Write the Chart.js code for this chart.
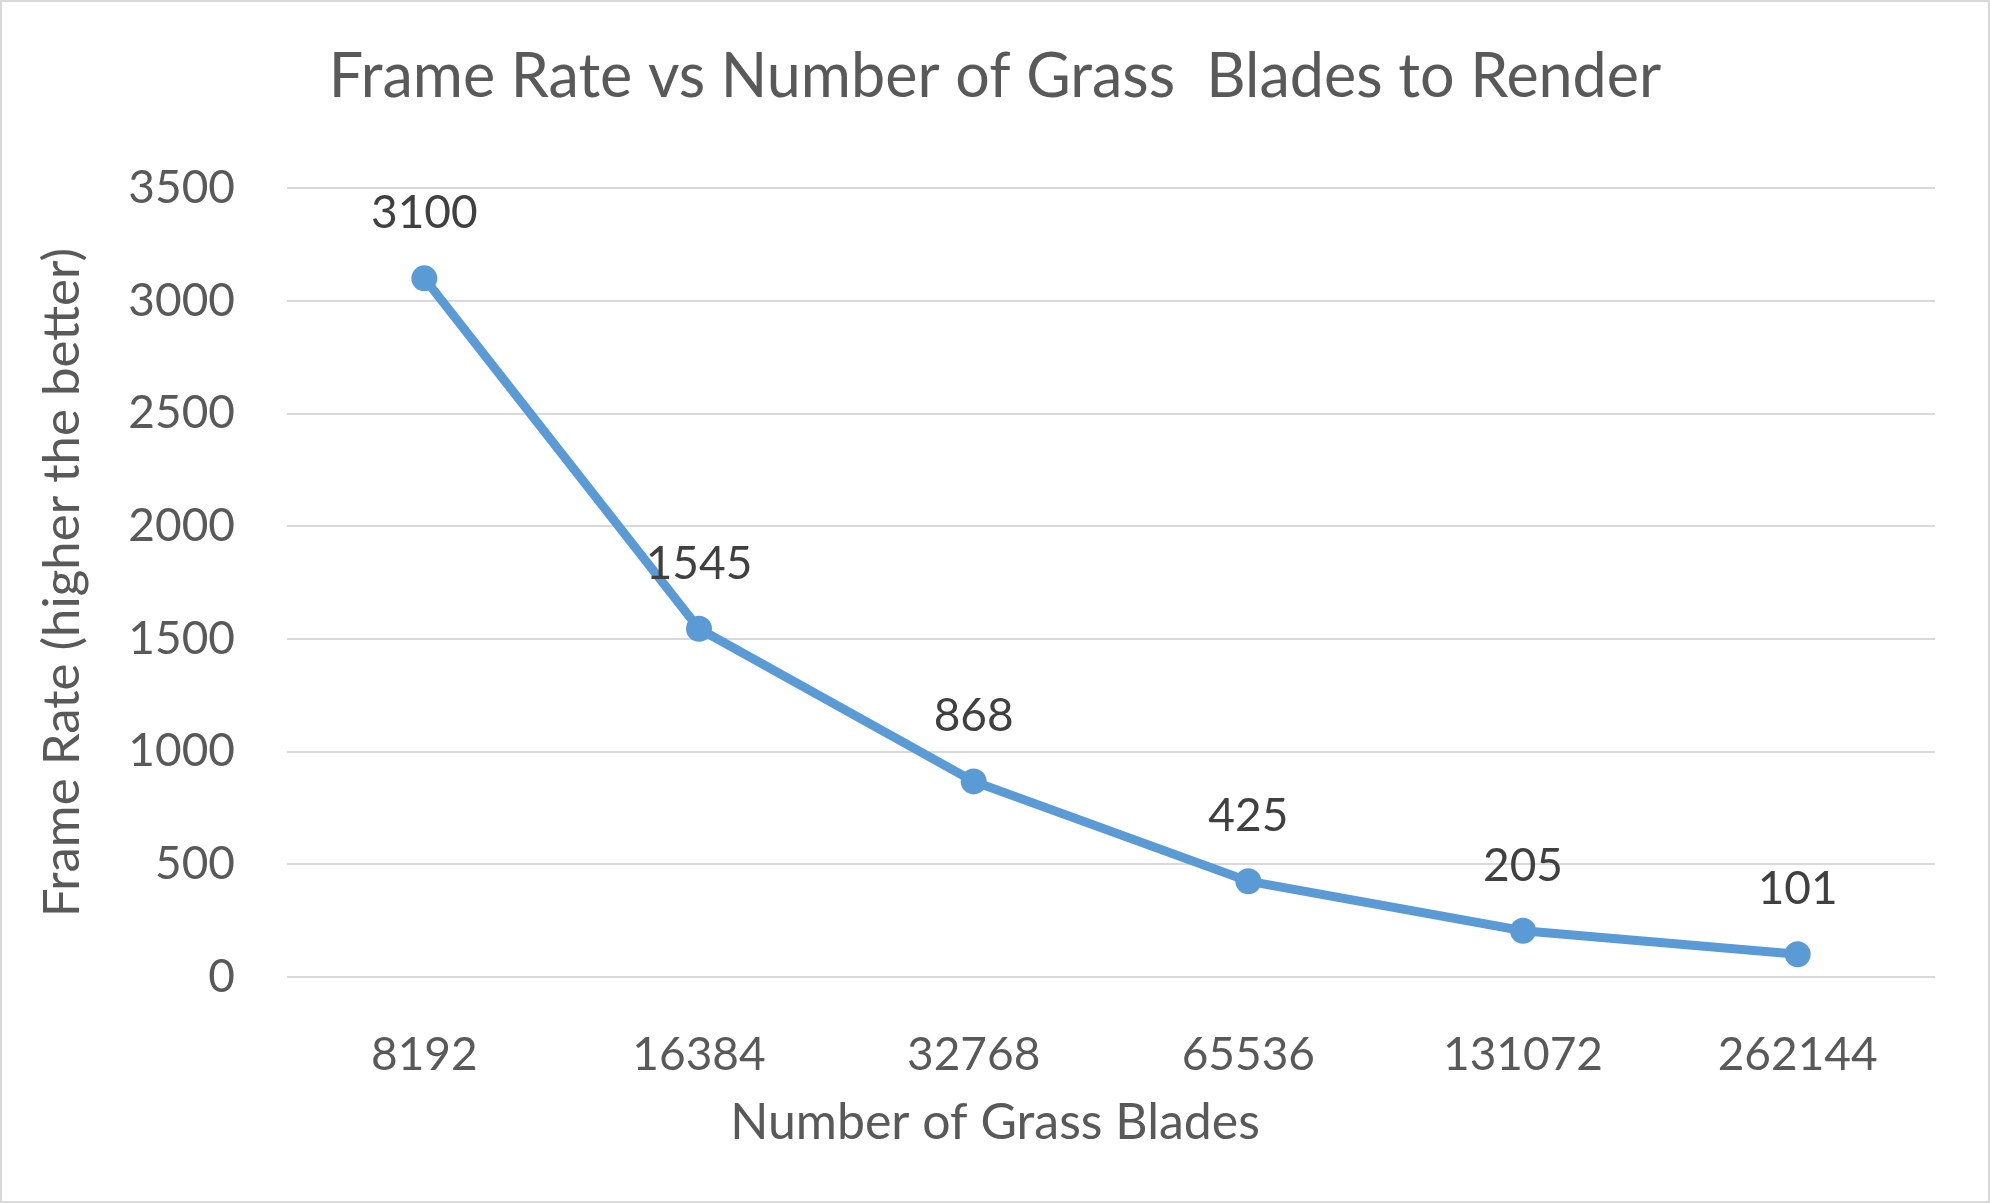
<!DOCTYPE html>
<html>
<head>
<meta charset="utf-8">
<script src="https://cdn.jsdelivr.net/npm/chart.js@4/dist/chart.umd.min.js"></script>
<style>
  html, body { margin: 0; padding: 0; background: #fff; }
  #wrap { width: 1990px; height: 1203px; position: relative; }
</style>
</head>
<body>
<div id="wrap"><canvas id="fpsChart"></canvas></div>
<script>
const bladeCounts = ['8192', '16384', '32768', '65536', '131072', '262144'];
const frameRates = [3100, 1545, 868, 425, 205, 101];
const yTicks = { min: 0, max: 3500, step: 500 };

const textGrey = '#595959';
const lineBlue = '#5B9BD5';

// white page with the thin grey frame Excel puts round a chart
const chartFrame = {
  id: 'chartFrame',
  beforeDraw(chart) {
    const { ctx, width, height } = chart;
    ctx.save();
    ctx.fillStyle = '#ffffff';
    ctx.fillRect(0, 0, width, height);
    ctx.strokeStyle = '#d9d9d9';
    ctx.lineWidth = 2;
    ctx.strokeRect(1, 1, width - 2, height - 2);
    ctx.restore();
  }
};

// value labels sitting above each point
const pointLabels = {
  id: 'pointLabels',
  afterDatasetsDraw(chart) {
    const { ctx } = chart;
    const meta = chart.getDatasetMeta(0);
    ctx.save();
    ctx.font = '46px Lato';
    ctx.fillStyle = '#404040';
    ctx.textAlign = 'center';
    ctx.textBaseline = 'middle';
    meta.data.forEach((pt, i) => {
      ctx.fillText(String(frameRates[i]), pt.x, pt.y - 65);
    });
    ctx.restore();
  }
};

function renderChart() {
  const canvas = document.getElementById('fpsChart');
  new Chart(canvas, {
    type: 'line',
    data: {
      labels: bladeCounts,
      datasets: [{
        label: 'Frame Rate',
        data: frameRates,
        borderColor: lineBlue,
        backgroundColor: lineBlue,
        borderWidth: 9,
        pointRadius: 13,
        pointHoverRadius: 13,
        pointBorderWidth: 0,
        tension: 0,
        fill: false
      }]
    },
    options: {
      responsive: true,
      maintainAspectRatio: false,
      animation: false,
      devicePixelRatio: 1,
      layout: { padding: { top: 0, left: 55, right: 55, bottom: 10 } },
      plugins: {
        legend: { display: false },
        tooltip: { enabled: false },
        title: {
          display: true,
          text: 'Frame Rate vs Number of Grass  Blades to Render',
          color: textGrey,
          font: { family: 'Lato', size: 61, weight: 'normal', lineHeight: 1.2 },
          padding: { top: 41, bottom: 74 }
        },
        // x axis caption: Excel centres it on the whole chart, not the plot
        subtitle: {
          display: true,
          position: 'bottom',
          text: 'Number of Grass Blades',
          color: textGrey,
          font: { family: 'Lato', size: 50, weight: 'normal', lineHeight: 1.2 },
          padding: { top: 5, bottom: 40 }
        }
      },
      scales: {
        x: {
          offset: true,
          grid: { display: false },
          border: { display: false },
          ticks: {
            color: textGrey,
            font: { family: 'Lato', size: 46 },
            padding: 43,
            maxRotation: 0
          },
          afterFit(scale) { scale.height = 111; }
        },
        y: {
          min: yTicks.min,
          max: yTicks.max,
          grid: { color: '#d9d9d9', lineWidth: 2, drawTicks: false },
          border: { display: false },
          ticks: {
            stepSize: yTicks.step,
            color: textGrey,
            font: { family: 'Lato', size: 46 },
            padding: 52,
            callback: (value) => String(value)
          },
          title: {
            display: true,
            text: 'Frame Rate (higher the better)',
            color: textGrey,
            font: { family: 'Lato', size: 51 },
            padding: { top: -23, bottom: 0 }
          },
          afterFit(scale) { scale.width = 232; }
        }
      }
    },
    plugins: [chartFrame, pointLabels]
  });
}

document.fonts.load('46px Lato').then(renderChart, renderChart);
</script>
</body>
</html>
